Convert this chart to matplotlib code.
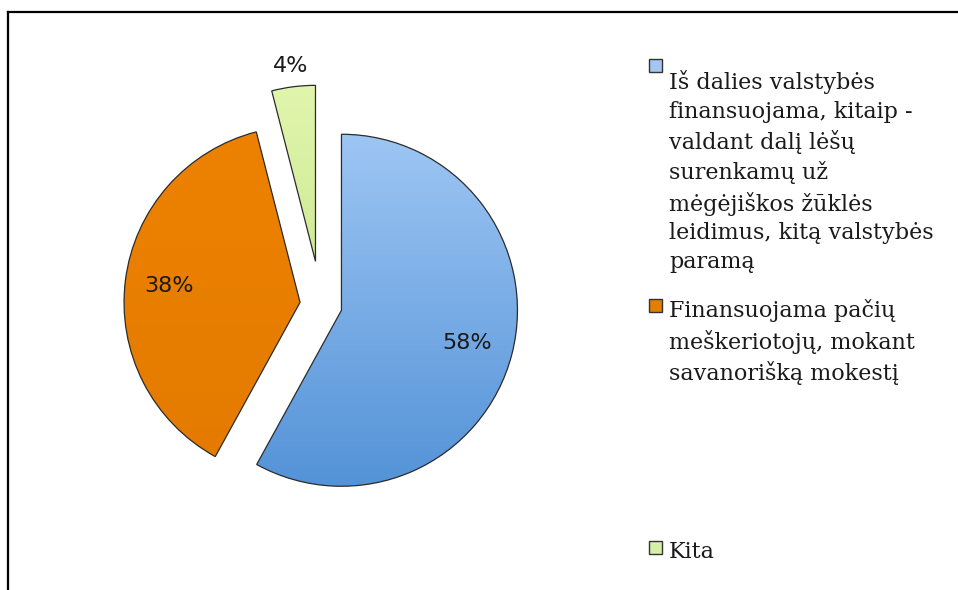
import numpy as np
import matplotlib
matplotlib.use("Agg")
import matplotlib.pyplot as plt
from matplotlib.colors import LinearSegmentedColormap
from matplotlib.patches import Rectangle
from matplotlib.lines import Line2D

# data
labels = [
    "Iš dalies valstybės\nfinansuojama, kitaip -\nvaldant dalį lėšų\nsurenkamų už\nmėgėjiškos žūklės\nleidimus, kitą valstybės\nparamą",
    "Finansuojama pačių\nmeškeriotojų, mokant\nsavanorišką mokestį",
    "Kita",
]
shares = [58, 38, 4]

# styling
explode = [0.12, 0.12, 0.25]
label_dist = [0.74, 0.75, 1.12]
grad_top = ["#a9cef8", "#ef8200", "#e2f6ae"]
grad_bottom = ["#4a8cd4", "#e27a00", "#b3da74"]
legend_face = ["#a3c7f2", "#e67e00", "#d6efa8"]
legend_baseline = [76, 316, 558]  # first-line baseline, px from top
line_step = 32
W, H = 958, 590


def fx(x):
    return x / W


def fy(y):
    return 1 - y / H


fig = plt.figure(figsize=(W / 100, H / 100), dpi=100)
fig.patch.set_facecolor("white")

# pie axes: centre ~ (321, 305) px, radius ~176 px
half = 250
lim = half / 176
ax = fig.add_axes([fx(321 - half), fy(305 + half), 2 * half / W, 2 * half / H])
ax.axis("off")

wedges, _, autotexts = ax.pie(
    shares, explode=explode, startangle=90, counterclock=False,
    autopct="%1.0f%%", pctdistance=0.75, radius=1,
    wedgeprops=dict(edgecolor="#2b2b2b", linewidth=0.9, facecolor="none"),
    textprops=dict(fontsize=16, color="#1a1a1a", family="DejaVu Sans"),
)

grad = np.linspace(0, 1, 256).reshape(-1, 1)
for i, w in enumerate(wedges):
    cmap = LinearSegmentedColormap.from_list(f"g{i}", [grad_top[i], grad_bottom[i]])
    im = ax.imshow(grad, extent=(-1.3, 1.3, -1.3, 1.3), cmap=cmap,
                   aspect="auto", origin="upper", zorder=0.5)
    im.set_clip_path(w)
    w.set_zorder(1)

    mid = np.deg2rad((w.theta1 + w.theta2) / 2)
    cx, cy = w.center
    autotexts[i].set_position((cx + label_dist[i] * np.cos(mid),
                               cy + label_dist[i] * np.sin(mid)))
    autotexts[i].set_zorder(3)

ax.set_xlim(-lim, lim)
ax.set_ylim(-lim, lim)

# legend drawn by hand to keep the uneven spacing
for i, lab in enumerate(labels):
    y0 = legend_baseline[i]
    n_extra = lab.count("\n")
    sq = Rectangle((fx(649), fy(y0 - 4)), 13 / W, 13 / H,
                   transform=fig.transFigure, facecolor=legend_face[i],
                   edgecolor="#333333", linewidth=1.0)
    fig.patches.append(sq)
    # multi-line text with va="baseline" sits on its last line
    fig.text(fx(669), fy(y0 + n_extra * line_step), lab, ha="left", va="baseline",
             fontsize=16, family="DejaVu Serif", color="#1a1a1a",
             linespacing=1.39)

# chart frame (cropped: only top and left edges visible)
fig.lines.append(Line2D([fx(8), 1.0], [fy(12), fy(12)], transform=fig.transFigure,
                        color="black", linewidth=1.6))
fig.lines.append(Line2D([fx(8), fx(8)], [fy(12), 0.0], transform=fig.transFigure,
                        color="black", linewidth=1.6))

fig.savefig("out.png", dpi=100)
